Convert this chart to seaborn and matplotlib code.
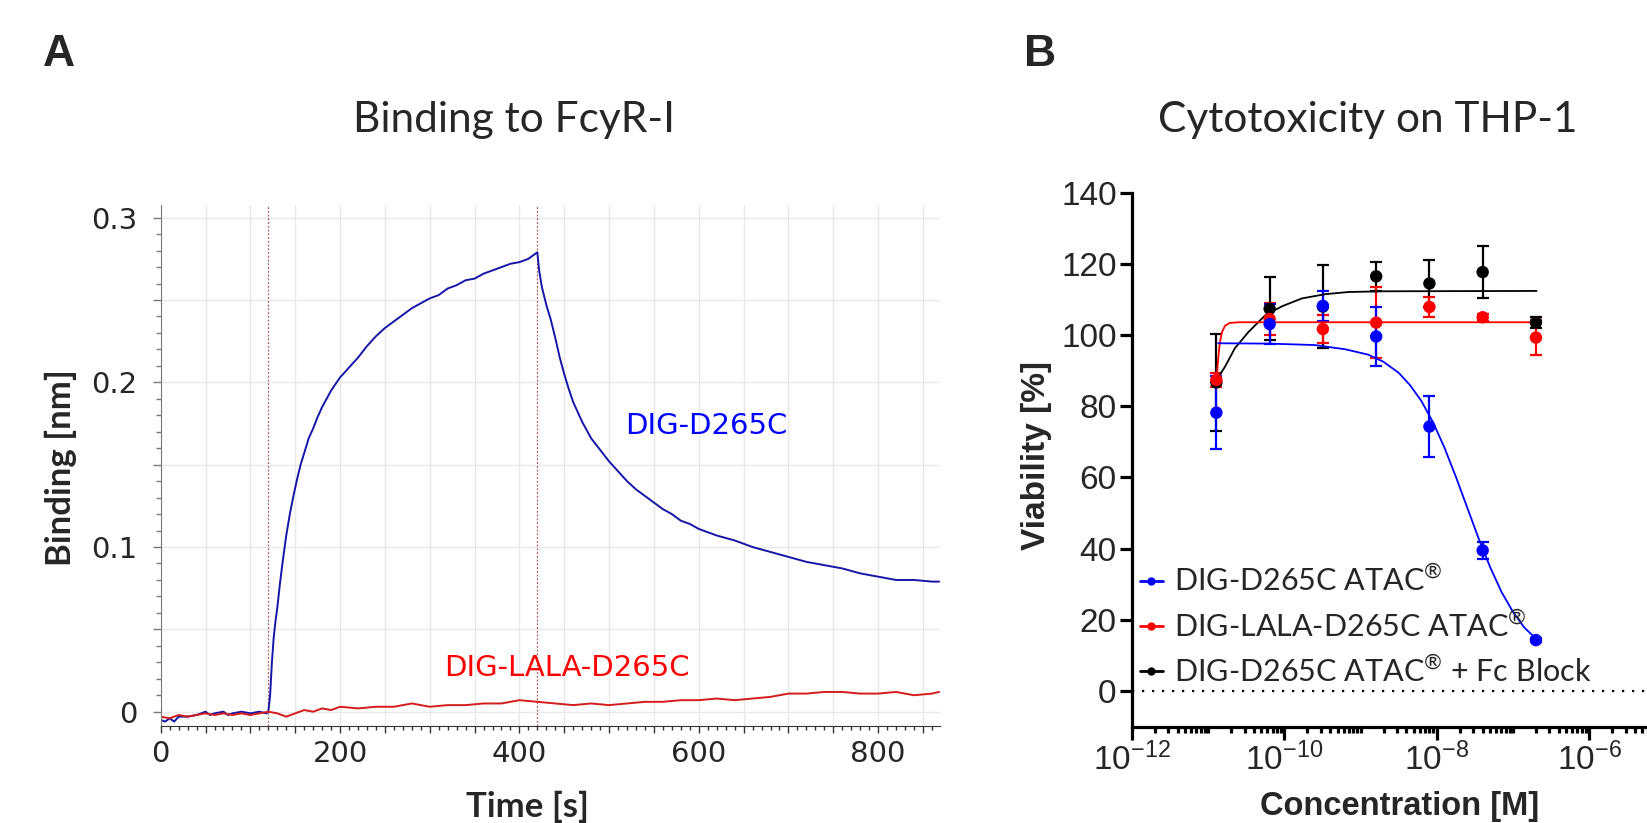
import numpy as np
import pandas as pd
import seaborn as sns
import matplotlib
matplotlib.use('Agg')
import matplotlib.pyplot as plt
from matplotlib.lines import Line2D
from matplotlib.ticker import FixedLocator, LogLocator, NullFormatter

# ---------------- Panel A: sensorgram (binding to FcyR-I) ----------------
time_blue = [0, 5, 10, 15, 20, 30, 40, 50, 55, 60, 70, 75, 80, 90, 100, 110, 118, 120,
             122, 124, 126, 128, 130, 133, 136, 140, 144, 148, 152, 156, 160, 165, 170, 175,
             180, 185, 190, 195, 200, 210, 220, 230, 240, 250, 260, 270, 280, 290, 300, 310,
             320, 330, 340, 350, 360, 370, 380, 390, 400, 410, 420,
             422, 425, 430, 435, 440, 445, 450, 455, 460, 470, 480, 490, 500, 510, 520, 530,
             540, 550, 560, 570, 580, 590, 600, 620, 640, 660, 680, 700, 720, 740, 760, 780,
             800, 820, 840, 860, 868]
binding_blue = [-0.005, -0.006, -0.004, -0.006, -0.003, -0.003, -0.002, 0.000, -0.002, -0.001,
                0.000, -0.002, -0.001, 0.000, -0.001, 0.000, -0.001, 0.000,
                0.010, 0.030, 0.045, 0.055, 0.063, 0.078, 0.091, 0.107, 0.120, 0.131, 0.141,
                0.150, 0.157, 0.166, 0.172, 0.179, 0.185, 0.190, 0.195, 0.199, 0.203, 0.209,
                0.215, 0.222, 0.228, 0.233, 0.237, 0.241, 0.245, 0.248, 0.251, 0.253, 0.257,
                0.259, 0.262, 0.263, 0.266, 0.268, 0.270, 0.272, 0.273, 0.275, 0.279,
                0.268, 0.258, 0.247, 0.238, 0.227, 0.215, 0.205, 0.196, 0.188, 0.176, 0.166,
                0.159, 0.152, 0.146, 0.140, 0.135, 0.131, 0.127, 0.123, 0.120, 0.116, 0.114,
                0.111, 0.107, 0.104, 0.100, 0.097, 0.094, 0.091, 0.089, 0.087, 0.084, 0.082,
                0.080, 0.080, 0.079, 0.079]

time_red = [0, 10, 20, 30, 40, 50, 60, 70, 80, 90, 100, 110, 120, 130, 140, 150, 160, 170, 180,
            190, 200, 220, 240, 260, 280, 300, 320, 340, 360, 380, 400, 420, 440, 460, 480, 500,
            520, 540, 560, 580, 600, 620, 640, 660, 680, 700, 720, 740, 760, 780, 800, 820, 840,
            860, 868]
binding_red = [-0.003, -0.004, -0.002, -0.003, -0.002, -0.001, -0.002, -0.001, -0.002, -0.001,
               -0.002, -0.001, 0.000, -0.001, -0.003, -0.001, 0.001, 0.000, 0.002, 0.001, 0.003,
               0.002, 0.003, 0.003, 0.005, 0.003, 0.004, 0.004, 0.005, 0.005, 0.007, 0.006,
               0.005, 0.004, 0.005, 0.004, 0.005, 0.006, 0.006, 0.007, 0.007, 0.008, 0.007,
               0.008, 0.009, 0.011, 0.011, 0.012, 0.012, 0.011, 0.011, 0.012, 0.010, 0.011, 0.012]

phase_marks = [120, 420]

# ---------------- Panel B: cytotoxicity on THP-1 ----------------
conc = [1.28e-11, 6.4e-11, 3.2e-10, 1.6e-9, 8e-9, 4e-8, 2e-7]
via_blue = [78.2, 103.1, 108.2, 99.6, 74.3, 39.5, 14.3]
err_blue = [10.3, 5.5, 4.2, 8.3, 8.5, 2.5, 0.5]
via_red = [87.4, 104.5, 101.7, 103.5, 107.9, 105.0, 99.3]
err_red = [2.0, 4.5, 4.0, 10.0, 2.7, 1.0, 5.0]
via_black = [86.7, 107.4, 108.0, 116.5, 114.5, 117.7, 103.5]
err_black = [13.6, 8.8, 11.6, 4.0, 6.7, 7.3, 1.6]

# fitted curves (log10 conc, viability)
fit_blue_logc = [-10.87, -10.2, -9.6, -9.2, -8.9, -8.7, -8.5, -8.35, -8.2, -8.05, -7.9,
                 -7.75, -7.6, -7.45, -7.3, -7.15, -7.0, -6.85, -6.69]
fit_blue_v = [97.7, 97.6, 97.2, 96.0, 94.5, 92.5, 89.4, 85.9, 81.4, 75.5, 68.4, 60.2, 51.5,
              42.8, 34.8, 27.8, 22.2, 17.8, 14.5]
fit_red_logc = [-10.89, -10.87, -10.85, -10.82, -10.78, -10.72, -10.6, -6.69]
fit_red_v = [87.5, 93.0, 97.5, 100.8, 102.6, 103.4, 103.6, 103.6]
fit_black_logc = [-10.89, -10.78, -10.65, -10.47, -10.25, -10.03, -9.77, -9.46, -9.16, -8.72, -6.69]
fit_black_v = [87.4, 91.1, 96.3, 100.9, 105.6, 108.1, 110.3, 111.5, 112.1, 112.3, 112.4]

legend_labels = ['DIG-D265C ATAC$^{\\mathregular{®}}$',
                 'DIG-LALA-D265C ATAC$^{\\mathregular{®}}$',
                 'DIG-D265C ATAC$^{\\mathregular{®}}$ + Fc Block']

sns.set_style('white')
plt.rcParams['font.family'] = ['Lato', 'DejaVu Sans']
plt.rcParams['mathtext.fontset'] = 'custom'
plt.rcParams['mathtext.rm'] = 'Liberation Sans'
plt.rcParams['mathtext.it'] = 'Liberation Sans:italic'
plt.rcParams['mathtext.bf'] = 'Liberation Sans:bold'

W, H = 1647, 823
fig = plt.figure(figsize=(W / 100, H / 100), dpi=100)

def fx(px):
    return px / W

def fy(py):
    return 1 - py / H

# ---- Panel A ----
axA = fig.add_axes([fx(160.7), fy(725.7), fx(940) - fx(160.7), fy(205) - fy(725.7)])
df_blue = pd.DataFrame({'t': time_blue, 'b': binding_blue})
df_red = pd.DataFrame({'t': time_red, 'b': binding_red})
sns.lineplot(data=df_blue, x='t', y='b', ax=axA, color='#1515a8', lw=1.4,
             estimator=None, sort=False)
sns.lineplot(data=df_red, x='t', y='b', ax=axA, color='#d41c1c', lw=1.4,
             estimator=None, sort=False)
for t in phase_marks:
    axA.axvline(t, color='#b25a5a', ls=(0, (1.5, 1.5)), lw=0.9, zorder=1)

axA.set_xlim(0, 869)
axA.set_ylim(-0.0085, 0.3077)
xt = np.arange(0, 851, 50)
axA.set_xticks(xt, labels=[str(v) if v % 200 == 0 else '' for v in xt],
               fontfamily='DejaVu Sans', fontsize=21)
axA.xaxis.set_minor_locator(FixedLocator(np.arange(0, 869, 10)))
yt = np.round(np.arange(0, 0.301, 0.05), 2)
axA.set_yticks(yt, labels=[f'{v:g}' if round(v * 100) % 10 == 0 else '' for v in yt],
               fontfamily='DejaVu Sans', fontsize=21)
axA.yaxis.set_minor_locator(FixedLocator(np.arange(0, 0.301, 0.01)))
axA.grid(True, which='major', color='#e8e8e8', lw=1)
axA.set_axisbelow(True)
for s in ['top', 'right']:
    axA.spines[s].set_visible(False)
axA.spines['left'].set_color('#7a7a7a')
axA.spines['bottom'].set_color('#333333')
axA.tick_params(axis='y', which='major', length=6, width=1, color='#7a7a7a',
                pad=11, left=True)
axA.tick_params(axis='y', which='minor', length=3.5, width=1, color='#7a7a7a', left=True)
axA.tick_params(axis='x', which='major', length=5, width=1, color='#333333',
                pad=5, bottom=True)
axA.tick_params(axis='x', which='minor', length=3, width=1, color='#333333', bottom=True)
axA.set_xlabel('')
axA.set_ylabel('')

axA.text(518, 0.1736, 'DIG-D265C', color='#0000ff', fontsize=21,
         fontfamily='DejaVu Sans', va='center', ha='left')
axA.text(316, 0.0264, 'DIG-LALA-D265C', color='#ff0000', fontsize=21,
         fontfamily='DejaVu Sans', va='center', ha='left')

fig.text(fx(61), fy(468), 'Binding [nm]', rotation=90, fontsize=25, fontweight='bold',
         ha='center', va='center')
fig.text(fx(527), fy(817), 'Time [s]', fontsize=25, fontweight='bold',
         ha='center', va='baseline')
fig.text(fx(514), fy(120), 'Binding to FcyR-I', fontsize=30.5, ha='center', va='center')
fig.text(fx(59), fy(55), 'A', fontsize=32, fontweight='bold', fontfamily='Liberation Sans',
         ha='center', va='center')

# ---- Panel B ----
axB = fig.add_axes([fx(1132), fy(726.6), fx(1665.4) - fx(1132), fy(192.7) - fy(726.6)])
axB.set_xscale('log')
axB.axhline(0, color='black', ls=(0, (1, 3.5)), lw=1.6, zorder=1)

series = [
    (via_black, err_black, fit_black_logc, fit_black_v, 'black'),
    (via_red, err_red, fit_red_logc, fit_red_v, '#ff0000'),
    (via_blue, err_blue, fit_blue_logc, fit_blue_v, '#0000ff'),
]
for via, err, flog, fval, col in series:
    axB.errorbar(conc, via, yerr=err, fmt='none', ecolor=col, elinewidth=1.6,
                 capsize=4.5, capthick=1.6, zorder=2)
    sns.lineplot(x=np.power(10.0, flog), y=fval, ax=axB, color=col, lw=1.3,
                 estimator=None, sort=False, zorder=3)
    sns.scatterplot(x=conc, y=via, ax=axB, color=col, s=80, edgecolor='none', zorder=4)

axB.set_xlim(1e-12, 1e-5)
axB.set_ylim(-10, 140)
ybt = np.arange(0, 141, 20)
axB.set_yticks(ybt, labels=[str(v) for v in ybt], fontfamily='Liberation Sans', fontsize=24)
axB.set_xticks([1e-12, 1e-10, 1e-8, 1e-6],
               labels=['$10^{-12}$', '$10^{-10}$', '$10^{-8}$', '$10^{-6}$'], fontsize=24)
axB.xaxis.set_minor_locator(LogLocator(base=10, subs=np.arange(1, 10), numticks=60))
axB.xaxis.set_minor_formatter(NullFormatter())
for s in ['top', 'right']:
    axB.spines[s].set_visible(False)
for s in ['left', 'bottom']:
    axB.spines[s].set_linewidth(2.3)
    axB.spines[s].set_color('black')
axB.tick_params(axis='both', which='major', length=9, width=2.3, color='black',
                pad=2, left=True, bottom=True)
axB.tick_params(axis='x', which='minor', length=4.5, width=2.3, color='black', bottom=True)
axB.set_xlabel('')
axB.set_ylabel('')

handles = [Line2D([0], [0], color=c, lw=2, marker='o', markersize=5)
           for c in ['#0000ff', '#ff0000', 'black']]
leg = axB.legend(handles, legend_labels, loc='upper left',
                 bbox_to_anchor=(fx(1140), fy(565)), bbox_transform=fig.transFigure,
                 frameon=False, fontsize=22, handlelength=0.75, handletextpad=0.35,
                 labelspacing=0.46, borderpad=0, borderaxespad=0)

fig.text(fx(1037), fy(455), 'Viability [%]', rotation=90, fontsize=24, fontweight='bold',
         fontfamily='Liberation Sans', ha='center', va='center')
fig.text(fx(1400), fy(815), 'Concentration [M]', fontsize=23.5, fontweight='bold',
         fontfamily='Liberation Sans', ha='center', va='baseline')
fig.text(fx(1368), fy(120), 'Cytotoxicity on THP-1', fontsize=30.5, ha='center', va='center')
fig.text(fx(1040), fy(55), 'B', fontsize=32, fontweight='bold', fontfamily='Liberation Sans',
         ha='center', va='center')

fig.savefig('out.png', dpi=100)
